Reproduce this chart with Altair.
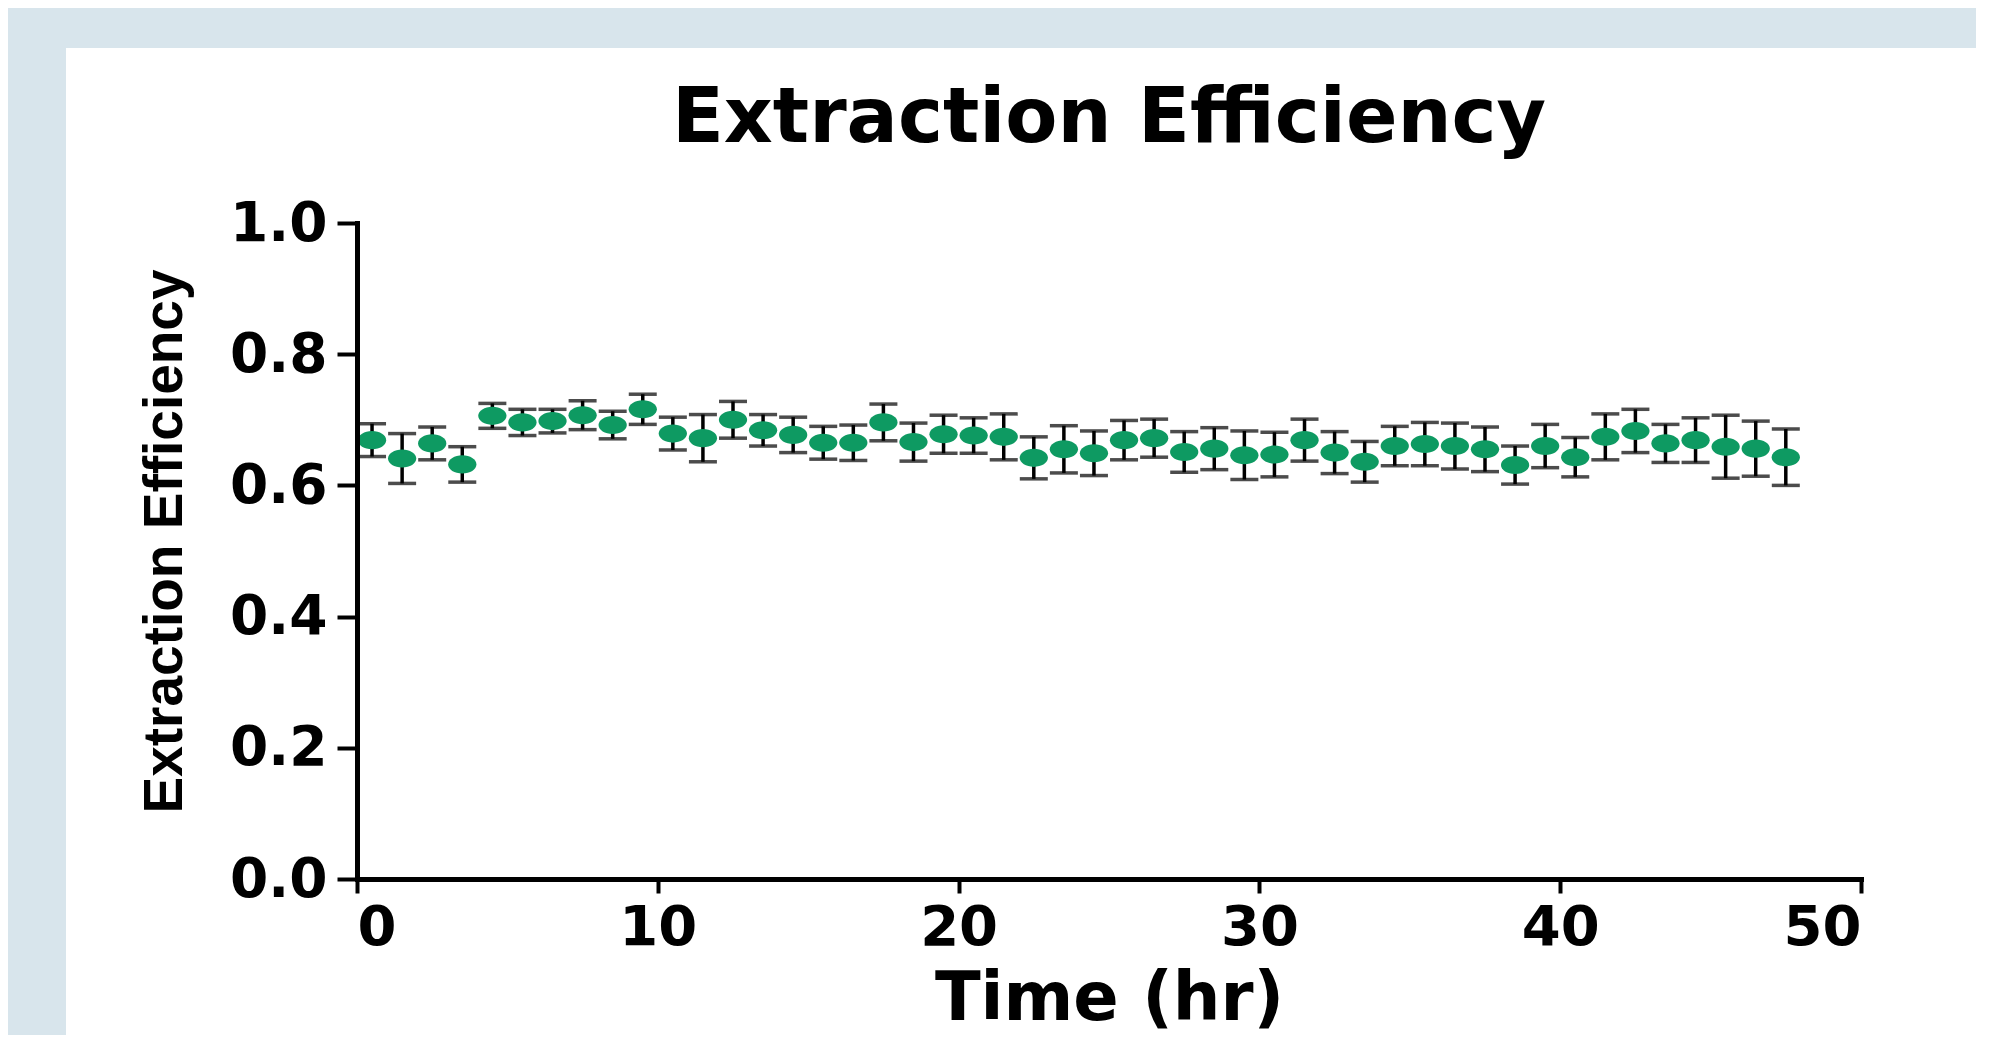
import altair as alt
import pandas as pd

# Time points (hr)
times = [0.5, 1.5, 2.5, 3.5, 4.5, 5.5, 6.5, 7.5, 8.5, 9.5,
         10.5, 11.5, 12.5, 13.5, 14.5, 15.5, 16.5, 17.5, 18.5, 19.5,
         20.5, 21.5, 22.5, 23.5, 24.5, 25.5, 26.5, 27.5, 28.5, 29.5,
         30.5, 31.5, 32.5, 33.5, 34.5, 35.5, 36.5, 37.5, 38.5, 39.5,
         40.5, 41.5, 42.5, 43.5, 44.5, 45.5, 46.5, 47.5]

# Mean extraction efficiency
means = [0.669, 0.641, 0.664, 0.632, 0.706, 0.696, 0.698, 0.707, 0.692, 0.716,
         0.679, 0.672, 0.700, 0.684, 0.677, 0.665, 0.665, 0.696, 0.666, 0.678,
         0.676, 0.674, 0.642, 0.655, 0.649, 0.669, 0.672, 0.651, 0.656, 0.646,
         0.647, 0.669, 0.650, 0.636, 0.660, 0.663, 0.660, 0.655, 0.631, 0.660,
         0.643, 0.674, 0.683, 0.664, 0.669, 0.659, 0.656, 0.643]

# Error (half-length of error bar)
errs = [0.025, 0.038, 0.025, 0.027, 0.019, 0.020, 0.018, 0.022, 0.021, 0.023,
        0.025, 0.036, 0.028, 0.024, 0.027, 0.025, 0.027, 0.028, 0.029, 0.029,
        0.027, 0.035, 0.032, 0.036, 0.034, 0.030, 0.029, 0.031, 0.032, 0.037,
        0.034, 0.032, 0.032, 0.031, 0.030, 0.033, 0.035, 0.034, 0.029, 0.033,
        0.030, 0.035, 0.033, 0.029, 0.034, 0.048, 0.042, 0.043]

x_ticks = [0, 10, 20, 30, 40, 50]
y_ticks = [0.0, 0.2, 0.4, 0.6, 0.8, 1.0]

df = pd.DataFrame({"t": times, "mean": means, "err": errs})
df["lo"] = df["mean"] - df["err"]
df["hi"] = df["mean"] + df["err"]

GREEN = "#0e9a62"
LABEL_FONT = "DejaVu Sans"

x_axis = alt.Axis(values=x_ticks, format="d", title="Time (hr)", tickSize=14,
                  labelPadding=7, labelFontSize=56, titleFont=LABEL_FONT, titleFontSize=67,
                  titleBaseline="alphabetic", titleX=752, titleY=140, titleAnchor="middle",
                  titleAngle=0, zindex=2)
y_axis = alt.Axis(values=y_ticks, format=".1f", title="Extraction Efficiency", tickSize=20,
                  labelPadding=10, labelFontSize=55, titleFont="Liberation Sans",
                  titleFontSize=55, titleBaseline="alphabetic", titleX=-176, titleY=318,
                  titleAngle=-90, titleAlign="center", zindex=2)

x_scale = alt.Scale(domain=[0, 50], nice=False, zero=False)
y_scale = alt.Scale(domain=[0, 1], nice=False)

def X():
    return alt.X("t:Q", scale=x_scale, axis=x_axis)

def Y(field):
    return alt.Y(f"{field}:Q", scale=y_scale, axis=y_axis)

card = alt.Chart(pd.DataFrame({"a": [0]})).mark_rect(color="white").encode(
    x=alt.value(-291), x2=alt.value(1700), y=alt.value(-175), y2=alt.value(821)
)

base = alt.Chart(df)
stems = base.mark_rule(color="black", strokeWidth=3.5).encode(x=X(), y=Y("lo"), y2="hi:Q")
cap_top = base.mark_tick(orient="horizontal", size=28, thickness=3.5, color="black").encode(
    x=X(), y=Y("hi"))
cap_bot = base.mark_tick(orient="horizontal", size=28, thickness=3.5, color="black").encode(
    x=X(), y=Y("lo"))

ellipse = "M-1,0A1,0.64,0,1,0,1,0A1,0.64,0,1,0,-1,0Z"
points = base.mark_point(shape=ellipse, size=800, filled=True, color=GREEN, opacity=1,
                         strokeWidth=0).encode(x=X(), y=Y("mean"))

chart = alt.layer(card, stems, cap_top, cap_bot, points).properties(
    width=1504,
    height=656,
    autosize="none",
    padding={"left": 349, "top": 215, "right": 115, "bottom": 156},
    background="#d8e5ec",
    title=alt.TitleParams(
        text="Extraction Efficiency", font=LABEL_FONT, fontSize=76, fontWeight="bold",
        color="black", anchor="middle", frame="group", baseline="alphabetic", offset=-92,
        dy=78, zindex=2,
    ),
).configure_view(stroke=None).configure_axis(
    grid=False, domainColor="black", domainWidth=5, domainCap="square",
    tickColor="black", tickWidth=4,
    labelFont=LABEL_FONT, labelFontWeight="bold", labelColor="black",
    titleFontWeight="bold", titleColor="black",
)

chart.save("out.html", embed_options={"renderer": "svg", "actions": False})
